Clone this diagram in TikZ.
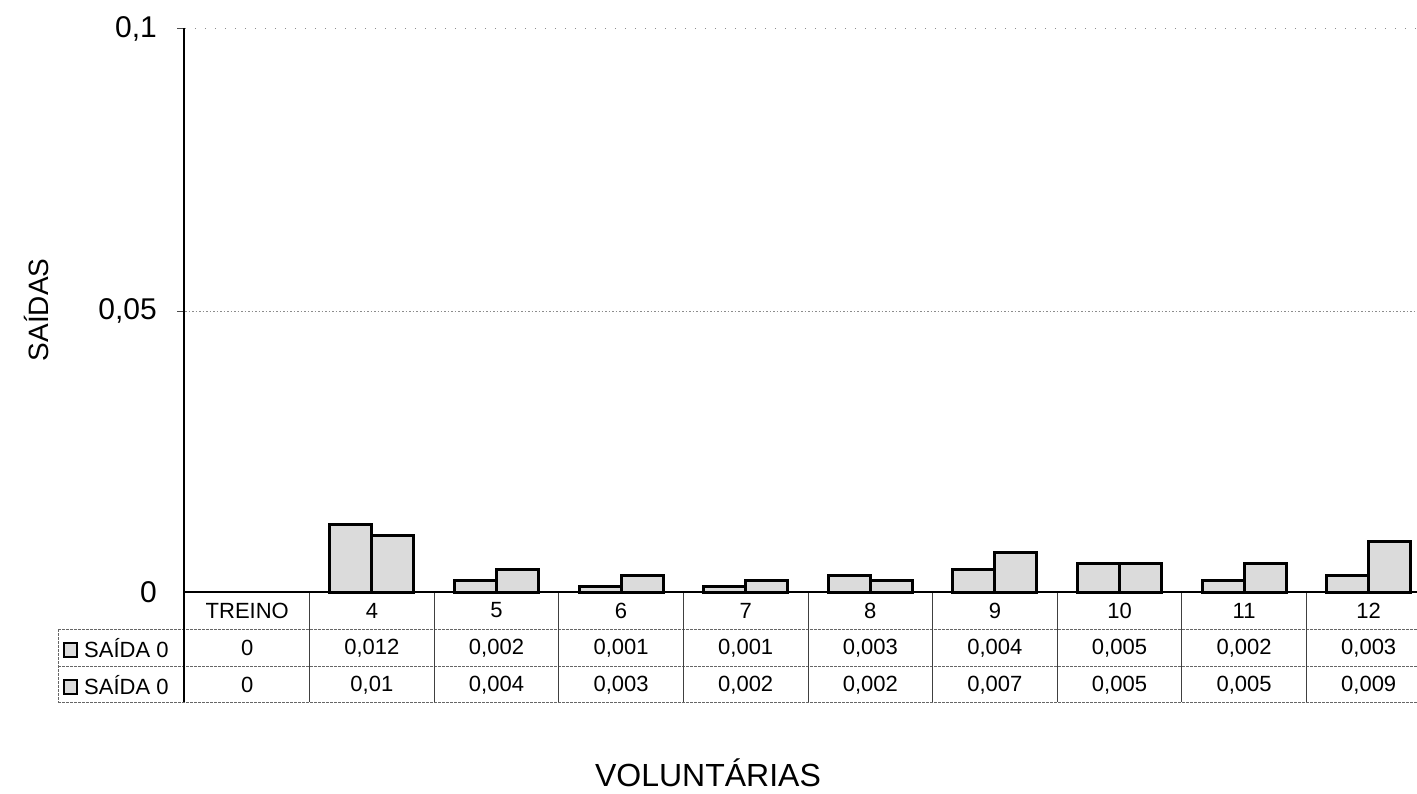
\documentclass[tikz,border=0pt]{standalone}
\usepackage{fontspec}
\setmainfont{Liberation Sans}
\usetikzlibrary{patterns}
\begin{document}
\begin{tikzpicture}[x=1pt,y=-1pt,
  axlbl/.style={font=\fontsize{30}{34}\selectfont, anchor=east, inner sep=0pt},
  tbl/.style={font=\fontsize{22}{26}\selectfont, inner sep=0pt},
  bar/.style={draw=black, line width=3pt, fill=black!14},
  vline/.style={draw=black!75, line width=0.8pt},
  hline/.style={draw=black!60, line width=0.8pt, dash pattern=on 2.5pt off 1.5pt},
  grid/.style={draw=black!45, line width=0.7pt, dash pattern=on 1.5pt off 2pt}]
\useasboundingbox (0,0) rectangle (1417,794);
% gridlines
\draw[grid, dash pattern=on 1pt off 9pt] (185,28) -- (1417,28);
\draw[grid] (185,311) -- (1417,311);
% ticks
\draw[black!70, line width=0.8pt] (177,311) -- (185,311);
\draw[black!70, line width=0.8pt] (177,28) -- (185,28);
% axis labels
\node[axlbl] (l01) at (157,29) {0,1};
\node[axlbl] (l005) at (157,311) {0,05};
\node[axlbl] (l0) at (157,592) {0};
\node[font=\fontsize{28}{32}\selectfont, rotate=90, inner sep=0pt] (ytitle) at (36,310) {SAÍDAS};
\node[font=\fontsize{32}{36}\selectfont, inner sep=0pt] (xtitle) at (708,773) {VOLUNTÁRIAS};
% bars
\def\cw{124.6}
\def\bw{42}
\foreach \i/\a/\b in {1/12/10, 2/2/4, 3/1/3, 4/1/2, 5/3/2, 6/4/7, 7/5/5, 8/2/5, 9/3/9}{
  \pgfmathsetmacro{\cx}{185+(\i+0.5)*\cw}
  \pgfmathsetmacro{\ha}{592-\a*5.64}
  \pgfmathsetmacro{\hb}{592-\b*5.64}
  \draw[bar] (\cx-\bw,592) rectangle (\cx,\ha);
  \draw[bar] (\cx,592) rectangle (\cx+\bw,\hb);
}
% table lines
\draw[hline] (58,629) -- (1417,629);
\draw[hline] (58,666) -- (1417,666);
\draw[hline] (58,702) -- (1417,702);
\draw[hline] (58,629) -- (58,702);
\foreach \k in {1,...,9}{
  \draw[vline] ({185+\k*\cw},592) -- ({185+\k*\cw},702);
}
% baseline and y axis
\draw[black, line width=1.2pt] (185,592) -- (1417,592);
\draw[black, line width=1.2pt] (184,28) -- (184,702);
% legend keys
\draw[draw=black, line width=2.2pt, fill=black!14] (64,643) rectangle (77,657);
\draw[draw=black, line width=2.2pt, fill=black!14] (64,680) rectangle (77,694);
\node[tbl, anchor=west] (k1) at (84,648) {SAÍDA 0};
\node[tbl, anchor=west] (k2) at (84,685) {SAÍDA 0};
% table texts
\foreach \i/\c/\a/\b in {0/TREINO/{0}/{0}, 1/4/{0,012}/{0,01}, 2/5/{0,002}/{0,004}, 3/6/{0,001}/{0,003}, 4/7/{0,001}/{0,002}, 5/8/{0,003}/{0,002}, 6/9/{0,004}/{0,007}, 7/10/{0,005}/{0,005}, 8/11/{0,002}/{0,005}, 9/12/{0,003}/{0,009}}{
  \pgfmathsetmacro{\cx}{185+(\i+0.5)*\cw}
  \node[tbl] (c\i) at (\cx,610.5) {\c};
  \node[tbl] (ra\i) at (\cx,648) {\a};
  \node[tbl] (rb\i) at (\cx,685) {\b};
}
\end{tikzpicture}
\end{document}
